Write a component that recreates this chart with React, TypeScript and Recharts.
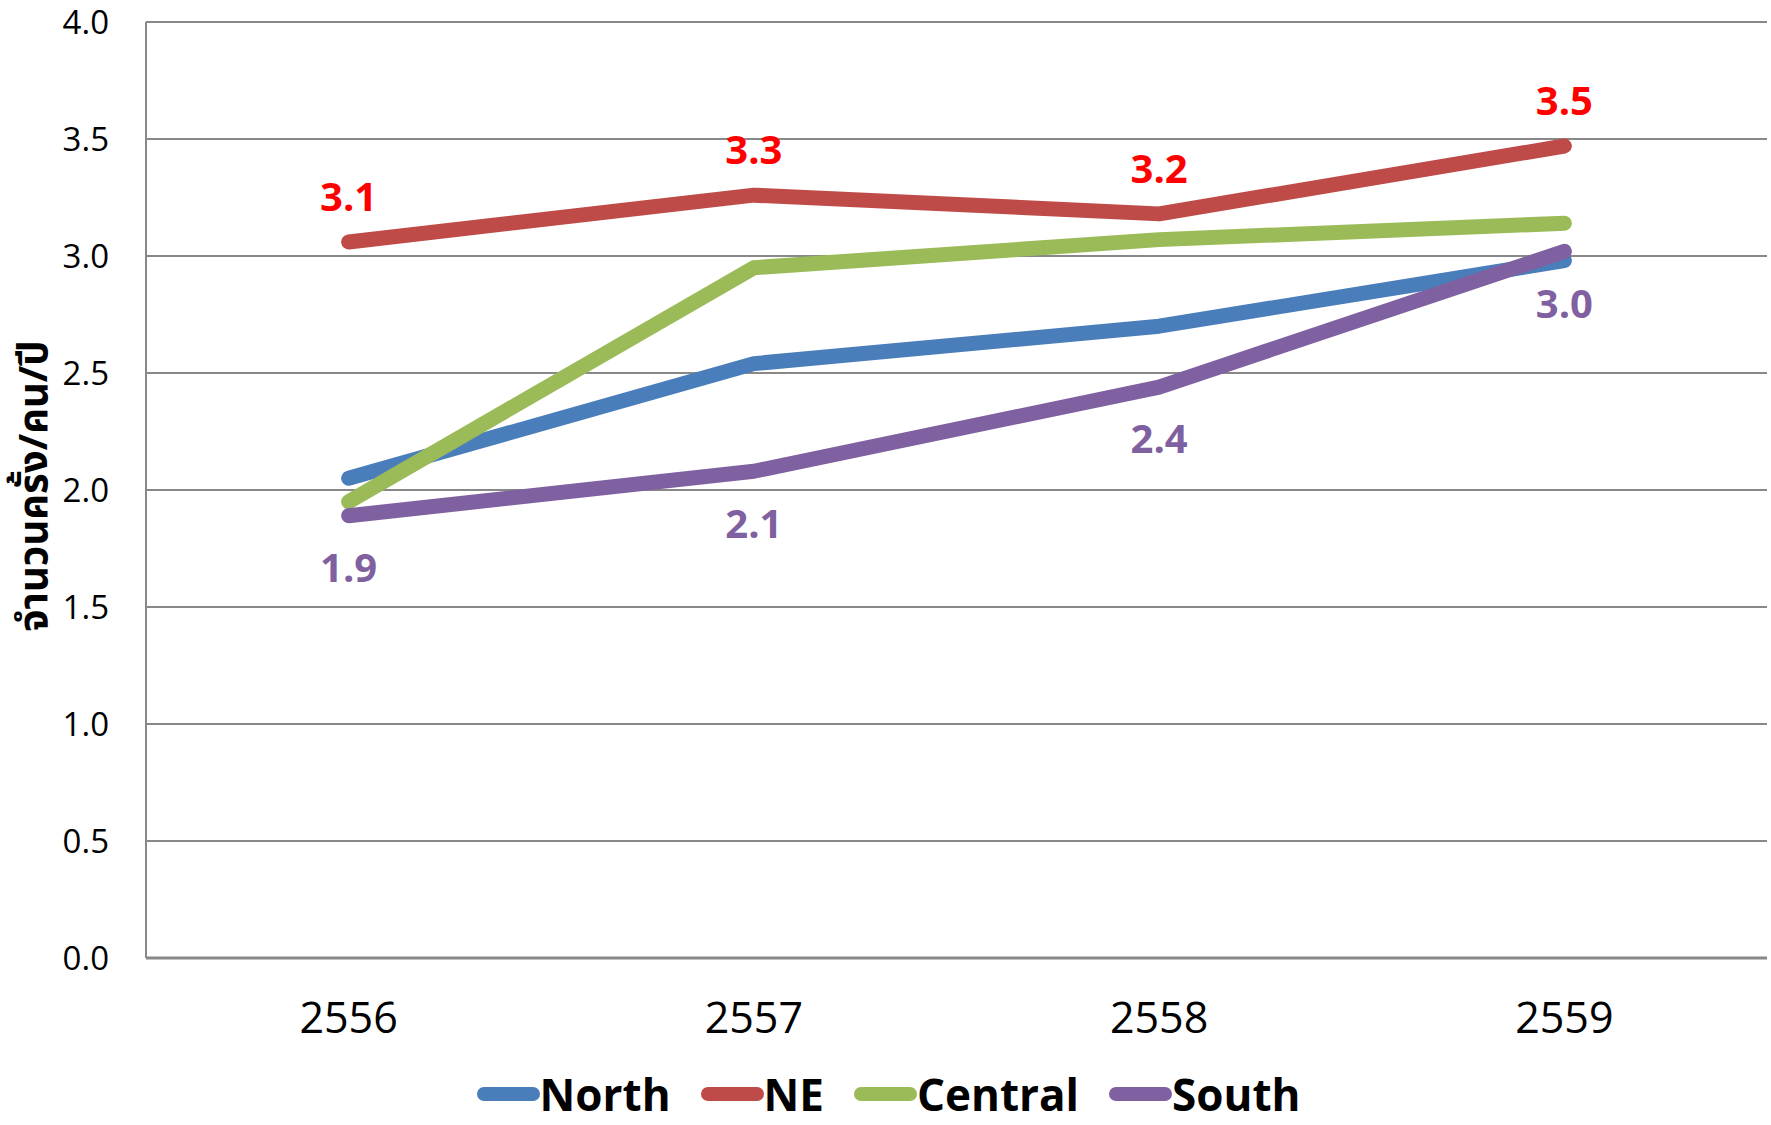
import React from "react";
import {
  LineChart,
  Line,
  XAxis,
  YAxis,
  CartesianGrid,
  Legend,
  LabelList,
} from "recharts";

const years = ["2556", "2557", "2558", "2559"];
const north = [2.05, 2.54, 2.7, 2.98];
const ne = [3.06, 3.26, 3.18, 3.47];
const central = [1.95, 2.95, 3.07, 3.14];
const south = [1.89, 2.08, 2.44, 3.02];
const yTicks = [0, 0.5, 1, 1.5, 2, 2.5, 3, 3.5, 4];

const seriesInfo = [
  { key: "north", name: "North", color: "#4A7EBB" },
  { key: "ne", name: "NE", color: "#BE4B48" },
  { key: "central", name: "Central", color: "#9BBB59" },
  { key: "south", name: "South", color: "#7F60A0" },
];

const data = years.map((year, i) => ({
  year,
  north: north[i],
  ne: ne[i],
  central: central[i],
  south: south[i],
}));

const FONT = "'Open Sans', 'Noto Sans', sans-serif";
const THAI_FONT = "'Noto Sans Thai', 'Noto Sans', 'DejaVu Sans', sans-serif";

function YTitle({ viewBox }: any) {
  if (!viewBox) return null;
  const cx = viewBox.x + 35;
  const cy = viewBox.y + viewBox.height / 2 - 4;
  return (
    <text
      x={cx}
      y={cy}
      transform={`rotate(-90 ${cx} ${cy})`}
      textAnchor="middle"
      dominantBaseline="central"
      fontFamily={THAI_FONT}
      fontWeight="bold"
      fontSize={40}
      fill="#000"
    >
      จำนวนครั้ง/คน/ปี
    </text>
  );
}

function LegendContent() {
  return (
    <div
      style={{
        height: 62,
        display: "flex",
        alignItems: "center",
        justifyContent: "center",
        fontFamily: FONT,
        fontWeight: 700,
        fontSize: 44,
        color: "#000",
        paddingLeft: 40,
        boxSizing: "border-box",
      }}
    >
      {seriesInfo.map((s) => (
        <div key={s.key} style={{ display: "flex", alignItems: "center", marginRight: 30 }}>
          <span
            style={{
              display: "inline-block",
              width: 63,
              height: 14,
              borderRadius: 7,
              background: s.color,
            }}
          />
          <span>{s.name}</span>
        </div>
      ))}
    </div>
  );
}

const fmt = (v: any) => Number(v).toFixed(1);

export default function App() {
  return (
    <div style={{ position: "absolute", left: 0, top: 0, background: "#fff" }}>
      <LineChart
        width={1771}
        height={1125}
        data={data}
        margin={{ top: 22, right: 4, left: 0, bottom: 0 }}
      >
        <CartesianGrid vertical={false} stroke="#888888" strokeWidth={2} />
        <XAxis
          dataKey="year"
          scale="band"
          tickLine={false}
          tickSize={0}
          tickMargin={44}
          height={105}
          axisLine={{ stroke: "#888888", strokeWidth: 3 }}
          tick={{ fontSize: 43, fill: "#000", fontFamily: FONT }}
        />
        <YAxis
          domain={[0, 4]}
          ticks={yTicks}
          width={146}
          tickLine={false}
          tickSize={0}
          tickMargin={37}
          tickFormatter={fmt}
          axisLine={{ stroke: "#888888", strokeWidth: 2 }}
          tick={{ fontSize: 33, fill: "#000", fontFamily: FONT }}
          label={<YTitle />}
        />
        <Legend verticalAlign="bottom" content={<LegendContent />} />
        {seriesInfo.map((s) => (
          <Line
            key={s.key}
            type="linear"
            dataKey={s.key}
            name={s.name}
            stroke={s.color}
            strokeWidth={15}
            strokeLinecap="round"
            strokeLinejoin="round"
            dot={false}
            activeDot={false}
            isAnimationActive={false}
          >
            {s.key === "ne" && (
              <LabelList
                dataKey="ne"
                position="top"
                offset={31}
                formatter={fmt}
                fill="#FF0000"
                fontSize={40}
                fontWeight="bold"
                fontFamily={FONT}
              />
            )}
            {s.key === "south" && (
              <LabelList
                dataKey="south"
                position="bottom"
                offset={38}
                formatter={fmt}
                fill="#7F60A0"
                fontSize={40}
                fontWeight="bold"
                fontFamily={FONT}
              />
            )}
          </Line>
        ))}
      </LineChart>
    </div>
  );
}
